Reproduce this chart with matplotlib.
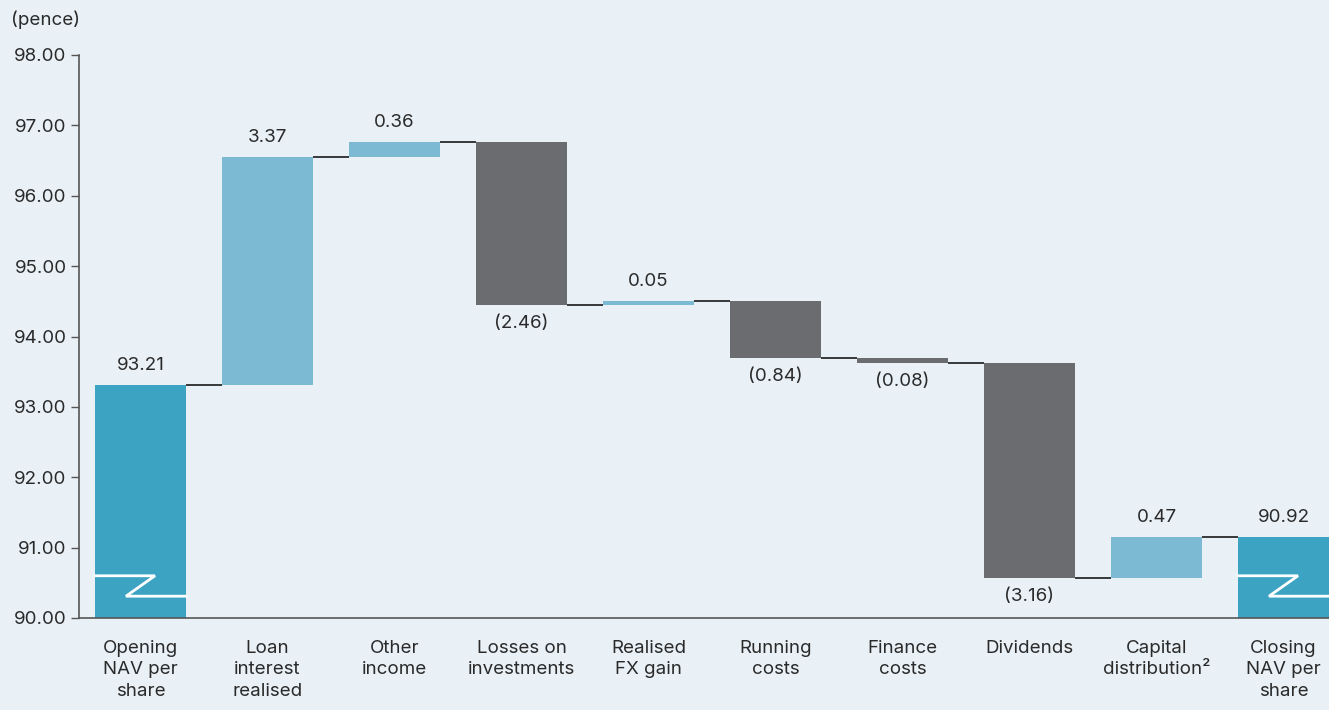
import matplotlib
matplotlib.use("Agg")
import matplotlib.pyplot as plt

plt.rcParams['font.family'] = ['Inter', 'DejaVu Sans']

categories = ["Opening\nNAV per\nshare", "Loan\ninterest\nrealised", "Other\nincome",
              "Losses on\ninvestments", "Realised\nFX gain", "Running\ncosts",
              "Finance\ncosts", "Dividends", "Capital\ndistribution\u00b2",
              "Closing\nNAV per\nshare"]
# bar extents as drawn (pence)
opening_value = 93.31
changes = [3.24, 0.21, -2.31, 0.05, -0.80, -0.07, -3.06, 0.58]
value_labels = ["93.21", "3.37", "0.36", "(2.46)", "0.05", "(0.84)", "(0.08)",
                "(3.16)", "0.47", "90.92"]
yticks = [90, 91, 92, 93, 94, 95, 96, 97, 98]

BG = "#e9f1f7"
TOTAL = "#3ca3c3"
POS = "#7cb9d3"
NEG = "#6b6c70"
TXT = "#2a2a2a"
FS = 13.5

fig = plt.figure(figsize=(13.29, 7.10), dpi=100, facecolor=BG)
W, H = 1329, 710
ax = fig.add_axes([79 / W, (H - 618) / H, (W - 79) / W, (618 - 55) / H])
ax.set_facecolor(BG)

bw = 91 / 127
base = 90.0
n = len(categories)

bottoms, heights, colors, levels = [], [], [], []
level = opening_value
bottoms.append(base); heights.append(opening_value - base); colors.append(TOTAL)
levels.append(level)
for c in changes:
    new = level + c
    bottoms.append(min(level, new)); heights.append(abs(c))
    colors.append(POS if c > 0 else NEG)
    level = new
    levels.append(level)
closing = level
bottoms.append(base); heights.append(closing - base); colors.append(TOTAL)
levels.append(closing)

xs = list(range(n))
ax.bar(xs, heights, bottom=bottoms, width=bw, color=colors, zorder=2)

for i in range(n - 1):
    ax.plot([i + bw / 2, i + 1 - bw / 2], [levels[i], levels[i]],
            color="#1a1a1a", lw=1.2, zorder=3, solid_capstyle='butt')

for i in (0, n - 1):
    left = i - bw / 2
    ax.plot([left, left + bw * 60 / 91, left + bw * 31 / 91, left + bw],
            [90.60, 90.60, 90.31, 90.31], color="white", lw=2, zorder=4,
            solid_joinstyle='miter')

for i in range(n):
    top = bottoms[i] + heights[i]
    is_neg = (0 < i < n - 1) and changes[i - 1] < 0
    if is_neg:
        ax.annotate(value_labels[i], (i, bottoms[i]), xytext=(0, -7.5),
                    textcoords='offset points', ha='center', va='top',
                    fontsize=FS, color=TXT)
    else:
        ax.annotate(value_labels[i], (i, top), xytext=(0, 8),
                    textcoords='offset points', ha='center', va='bottom',
                    fontsize=FS, color=TXT)

ax.set_xlim(-0.484, (W - 140.5) / 127)
ax.set_ylim(90, 98)
ax.set_yticks(yticks)
ax.set_yticklabels([f"{v:.2f}" for v in yticks], fontsize=FS, color=TXT)
ax.set_xticks(xs)
ax.set_xticklabels(categories, fontsize=FS, color=TXT, linespacing=1.32)
ax.tick_params(axis='x', length=0, pad=16)
ax.tick_params(axis='y', length=6, width=1, color="#555555", pad=3)

for s in ('top', 'right'):
    ax.spines[s].set_visible(False)
for s in ('left', 'bottom'):
    ax.spines[s].set_color("#555555")
    ax.spines[s].set_linewidth(1.2)

fig.text(11 / W, 1 - 20 / H, "(pence)", fontsize=FS, color=TXT, va='center', ha='left')

fig.savefig("out.png", dpi=100, facecolor=BG)
